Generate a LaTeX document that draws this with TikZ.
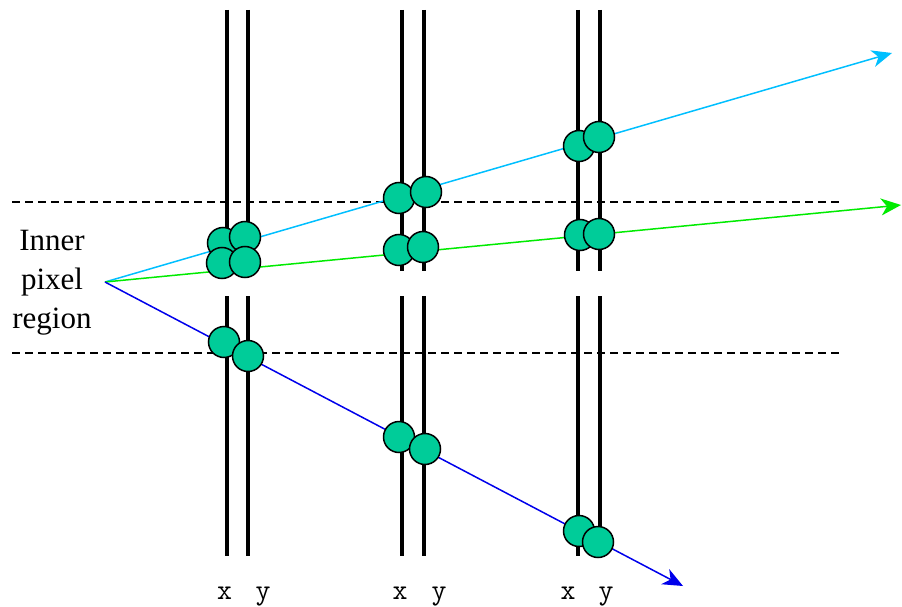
\documentclass[tikz,border=0pt]{standalone}
\usepackage{fontspec}
\setmainfont{Liberation Serif}
\usetikzlibrary{
    arrows.meta,
    positioning
}
\definecolor{hitfill}{RGB}{0,204,153}
\definecolor{raycyan}{RGB}{0,191,255}
\definecolor{raygreen}{RGB}{0,235,0}
\definecolor{rayblue}{RGB}{0,0,235}

\begin{document}
\begin{tikzpicture}[x=1pt, y=-1pt,
    hit/.style={circle, draw, line width=1.5pt, fill=hitfill, minimum size=31pt, inner sep=0pt},
    ray/.style={line width=1.5pt, -{Stealth[length=20pt, width=17pt, inset=6pt]}},
    layer/.style={line width=4pt},
    stripname/.style={anchor=base, inner sep=0pt, font=\ttfamily\fontsize{29}{29}\selectfont}]
    \useasboundingbox (0,0) rectangle (902,607);
    \draw[dash pattern=on 8pt off 5pt, line width=1.2pt] (12,202) -- (840,202);
    \draw[dash pattern=on 8pt off 5pt, line width=1.2pt] (12,353) -- (840,353);
    \foreach \x in {227,248,402,424,578,600} {
        \draw[layer] (\x,10) -- (\x,271);
        \draw[layer] (\x,296) -- (\x,556);
    }
    \node[align=center, inner sep=0pt, font=\fontsize{31}{39}\selectfont] (region) at (52,283) {Inner\\pixel\\region};
    \coordinate (src) at (105,282);
    \coordinate (cyanend) at (892,53);
    \coordinate (greenend) at (901,205);
    \coordinate (blueend) at (683,586);
    \draw[ray, raycyan] (src) -- (cyanend);
    \draw[ray, raygreen] (src) -- (greenend);
    \draw[ray, rayblue] (src) -- (blueend);
    \foreach \n/\x/\y in {cyan1x/223/243, cyan1y/245/237, green1x/222/263, green1y/245/262,
        cyan2x/399/198, cyan2y/426/192, green2x/399/250, green2y/423/247,
        cyan3x/579/146, cyan3y/599/137, green3x/580/235, green3y/599/234,
        blue1x/224/342, blue1y/248/356, blue2x/399/437, blue2y/425/449,
        blue3x/579/531, blue3y/598/542}
        \node[hit] (\n) at (\x,\y) {};
    \foreach \n/\x/\t in {x1/224.5/x, y1/263/y, x2/400/x, y2/439/y, x3/568/x, y3/606/y}
        \node[stripname] (\n) at (\x,599) {\t};
\end{tikzpicture}
\end{document}
